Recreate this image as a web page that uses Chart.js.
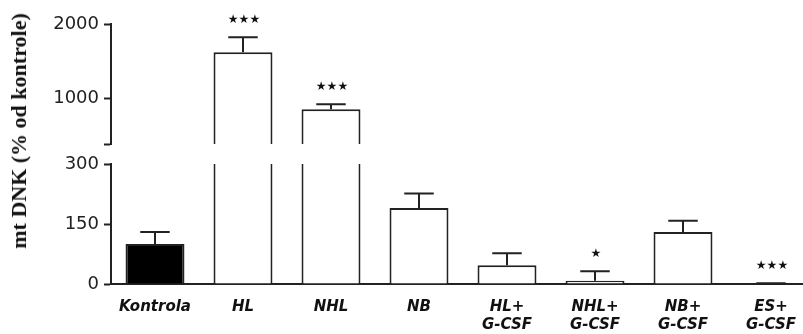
<!DOCTYPE html>
<html>
<head>
<meta charset="utf-8">
<script src="https://cdn.jsdelivr.net/npm/chart.js@4"></script>
<style>
  html, body { margin: 0; padding: 0; background: #fff; overflow: hidden; }
  #wrap { position: relative; width: 803px; height: 334px; overflow: hidden; }
  .layer { position: absolute; left: 0; top: 0; width: 820px; height: 334px; }
  #yTitle {
    position: absolute; left: 19px; top: 131px;
    transform: translate(-50%, -50%) rotate(-90deg);
    white-space: nowrap;
    font: bold 22px "Liberation Serif", serif;
    color: #111;
  }
</style>
</head>
<body>
<div id="wrap">
  <canvas id="upperChart" class="layer" width="820" height="334"></canvas>
  <canvas id="lowerChart" class="layer" width="820" height="334"></canvas>
  <div id="yTitle">mt DNK (% od kontrole)</div>
</div>
<script>
// podaci
const categories = ['Kontrola', 'HL', 'NHL', 'NB', ['HL+', 'G-CSF'], ['NHL+', 'G-CSF'], ['NB+', 'G-CSF'], ['ES+', 'G-CSF']];
const values = [100, 1620, 850, 190, 47, 8, 130, 1];
const errors = [30, 200, 65, 36, 30, 24, 28, 1];
const signif = ['', '***', '***', '', '', '*', '', '***'];
const fills = ['#000', '#fff', '#fff', '#fff', '#fff', '#fff', '#fff', '#fff'];

// prekinuta y os: donji i gornji dio
const lowerTicks = [0, 150, 300];
const upperTicks = [1000, 2000];
const upperMin = 380;

const lineColor = '#222';

// crta gornje error barove i zvjezdice
const errorBarsPlugin = {
  id: 'errorBars',
  afterDatasetsDraw(chart) {
    const ctx = chart.ctx;
    const y = chart.scales.y;
    const meta = chart.getDatasetMeta(0);
    ctx.save();
    ctx.strokeStyle = lineColor;
    ctx.lineWidth = 2;
    meta.data.forEach((bar, i) => {
      const v = values[i];
      if (v < y.min || v + errors[i] > y.max) return;
      const yBar = y.getPixelForValue(v);
      const yTop = y.getPixelForValue(v + errors[i]);
      const half = bar.width * 0.25;
      ctx.beginPath();
      ctx.moveTo(bar.x, yBar);
      ctx.lineTo(bar.x, yTop);
      ctx.moveTo(bar.x - half, yTop);
      ctx.lineTo(bar.x + half, yTop);
      ctx.stroke();
      if (signif[i]) {
        ctx.fillStyle = '#111';
        ctx.font = '12px "DejaVu Sans"';
        ctx.textAlign = 'center';
        ctx.textBaseline = 'middle';
        ctx.fillText(signif[i].replace(/\*/g, '★'), bar.x + 1, yTop - 17);
      }
    });
    ctx.restore();
  }
};

function baseOptions() {
  return {
    responsive: false,
    animation: false,
    layout: { padding: { left: 0, right: 5, top: 0, bottom: 0 } },
    plugins: { legend: { display: false }, tooltip: { enabled: false } },
    scales: {
      x: {
        type: 'category',
        grid: { drawOnChartArea: false, drawTicks: false },
        border: { display: true, color: lineColor, width: 2 },
        ticks: {
          padding: 14,
          color: '#111',
          font: { family: 'DejaVu Sans', size: 15, weight: 'bold', style: 'italic', lineHeight: 1.2 },
          maxRotation: 0, autoSkip: false
        }
      },
      y: {
        grid: { drawOnChartArea: false, drawTicks: true, tickLength: 7, tickColor: lineColor, tickWidth: 2 },
        border: { display: true, color: lineColor, width: 2 },
        ticks: {
          padding: 5,
          color: '#222',
          font: { family: 'DejaVu Sans', size: 18 }
        },
        afterFit(scale) { scale.width = 111; }
      }
    }
  };
}

function barDataset(data) {
  return {
    data: data,
    backgroundColor: fills,
    borderColor: lineColor,
    borderWidth: 2,
    borderSkipped: 'start',
    barPercentage: 0.67,
    categoryPercentage: 1,
    clip: 0
  };
}

// donji dio (0 - 300)
const lowerOpts = baseOptions();
lowerOpts.layout.padding.top = 164;
lowerOpts.scales.x.afterFit = (scale) => { scale.height = 50; };
lowerOpts.scales.y.min = 0;
lowerOpts.scales.y.max = 300;
lowerOpts.scales.y.afterBuildTicks = (scale) => {
  scale.ticks = lowerTicks.map(v => ({ value: v }));
};

new Chart(document.getElementById('lowerChart'), {
  type: 'bar',
  data: { labels: categories, datasets: [barDataset(values)] },
  options: lowerOpts,
  plugins: [errorBarsPlugin]
});

// gornji dio (380 - 2000)
const upperOpts = baseOptions();
upperOpts.layout.padding.top = 24;
upperOpts.layout.padding.bottom = 190;
upperOpts.scales.x.display = false;
upperOpts.scales.y.min = upperMin;
upperOpts.scales.y.max = 2000;
upperOpts.scales.y.afterBuildTicks = (scale) => {
  scale.ticks = [upperMin].concat(upperTicks).map(v => ({ value: v }));
};
upperOpts.scales.y.ticks.callback = (v) => (v === upperMin ? '' : v);

new Chart(document.getElementById('upperChart'), {
  type: 'bar',
  data: {
    labels: categories,
    datasets: [barDataset(values.map(v => (v > upperMin ? v : null)))]
  },
  options: upperOpts,
  plugins: [errorBarsPlugin]
});
</script>
</body>
</html>
